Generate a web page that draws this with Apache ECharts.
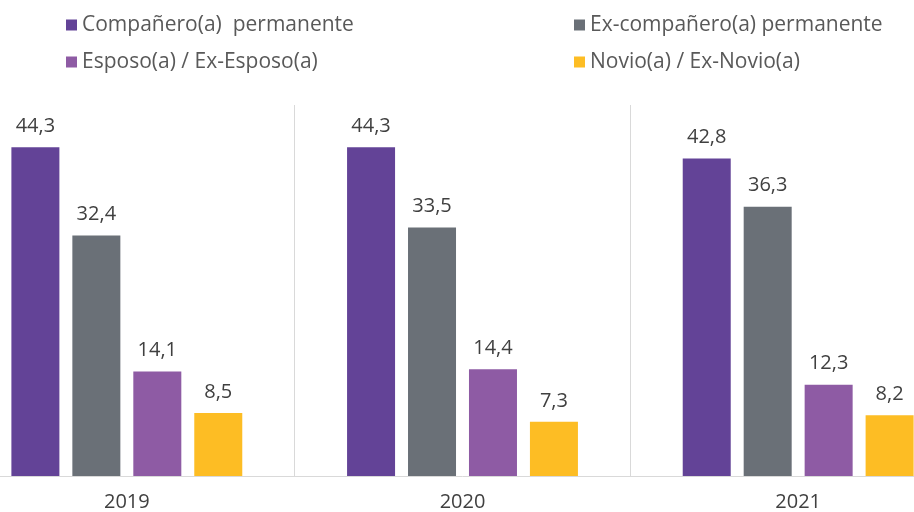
<!DOCTYPE html>
<html>
<head>
<meta charset="utf-8">
<script src="https://cdn.jsdelivr.net/npm/echarts@6/dist/echarts.min.js"></script>
<style>
html,body{margin:0;padding:0;background:#fff;overflow:hidden;width:914px;height:512px;}
#c{position:absolute;left:-41px;top:0;width:1007px;height:512px;}
</style>
</head>
<body>
<div id="c"></div>
<script>
const categories = ['2019', '2020', '2021'];
const seriesNames = ['Compañero(a)  permanente', 'Ex-compañero(a) permanente', 'Esposo(a) / Ex-Esposo(a)', 'Novio(a) / Ex-Novio(a)'];
const companero = [44.3, 44.3, 42.8];
const exCompanero = [32.4, 33.5, 36.3];
const esposo = [14.1, 14.4, 12.3];
const novio = [8.5, 7.3, 8.2];
const colors = ['#634397', '#6a7077', '#8e5ba4', '#fdbd24'];

const values = [companero, exCompanero, esposo, novio];
const FONT = 'Open Sans';
const SHIFT = 41; // container is shifted left by this many pixels

const legendBase = {
  orient: 'vertical', top: 14, padding: 0,
  itemWidth: 11, itemHeight: 11, itemGap: 15, icon: 'rect',
  textStyle: { fontSize: 21, lineHeight: 22, color: '#595959', fontFamily: FONT }
};

const chart = echarts.init(document.getElementById('c'));
chart.setOption({
  animation: false,
  textStyle: { fontFamily: FONT },
  legend: [
    Object.assign({}, legendBase, { data: [seriesNames[0], seriesNames[2]], left: 66 + SHIFT }),
    Object.assign({}, legendBase, { data: [seriesNames[1], seriesNames[3]], left: 574 + SHIFT })
  ],
  grid: { left: 0, right: 0, top: 105, bottom: 36, containLabel: false },
  xAxis: {
    type: 'category',
    data: categories,
    axisLine: { show: true, lineStyle: { color: '#d9d9d9', width: 1 } },
    axisTick: { show: false },
    splitLine: { show: true, lineStyle: { color: '#d9d9d9', width: 1 } },
    axisLabel: { fontSize: 20, color: '#404040', margin: 16, fontFamily: FONT }
  },
  yAxis: {
    type: 'value', min: 0, max: 50,
    show: false,
    splitLine: { show: false }
  },
  series: values.map((v, i) => ({
    name: seriesNames[i],
    type: 'bar',
    data: v,
    barWidth: 48,
    barGap: '27%',
    itemStyle: { color: colors[i] },
    label: {
      show: true, position: 'top', distance: 11,
      fontSize: 20, color: '#404040', fontFamily: FONT,
      formatter: p => p.value.toFixed(1).replace('.', ',')
    }
  }))
});
</script>
</body>
</html>
